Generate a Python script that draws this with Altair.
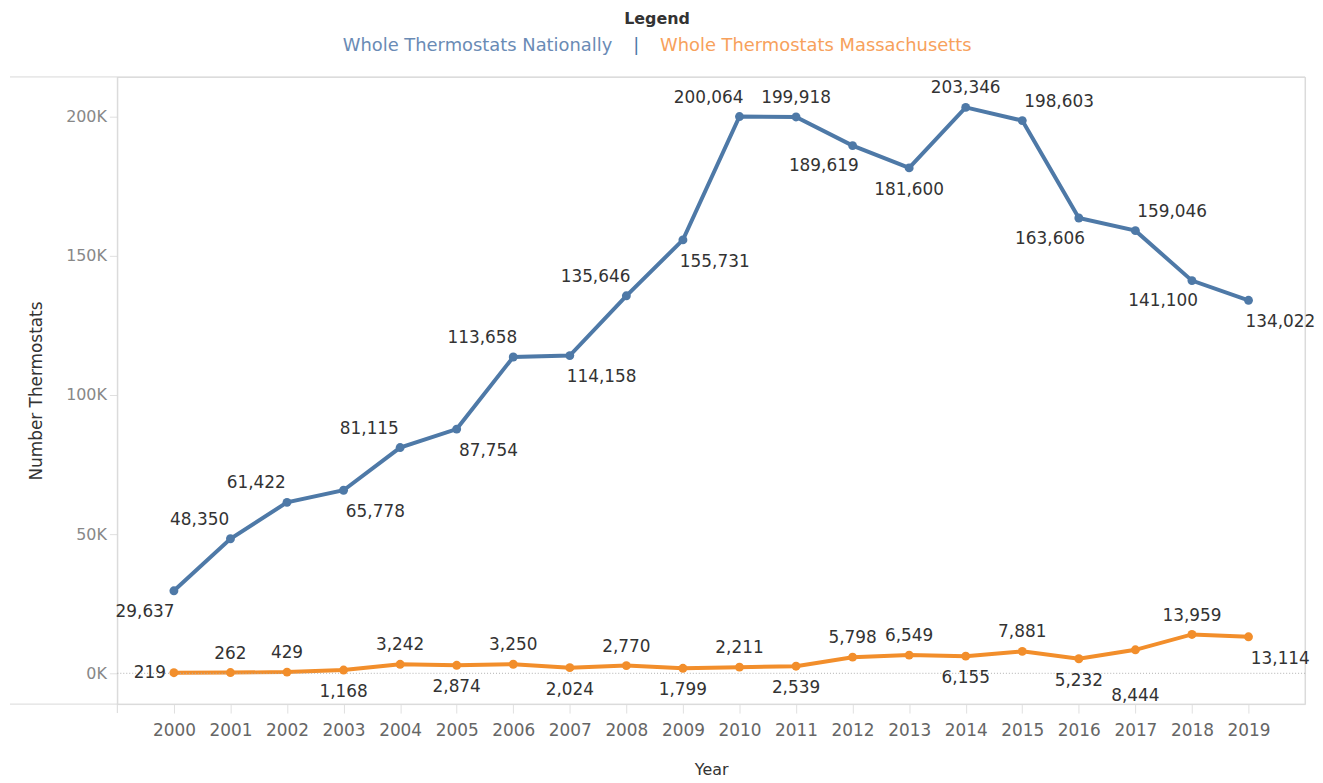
import altair as alt
import pandas as pd

years = [str(y) for y in range(2000, 2020)]
national = [29637, 48350, 61422, 65778, 81115, 87754, 113658, 114158, 135646, 155731,
            200064, 199918, 189619, 181600, 203346, 198603, 163606, 159046, 141100, 134022]
massachusetts = [219, 262, 429, 1168, 3242, 2874, 3250, 2024, 2770, 1799,
                 2211, 2539, 5798, 6549, 6155, 7881, 5232, 8444, 13959, 13114]
# label placement relative to each point (a=above, b=below, l/r = left/right)
national_pos = ["bl", "al", "al", "br", "al", "br", "al", "br", "al", "br",
                "al", "a", "bl", "b", "a", "ar", "bl", "ar", "bl", "br"]
ma_pos = ["l", "a", "a", "b", "a", "b", "a", "b", "a", "b",
          "a", "b", "a", "a", "b", "a", "b", "bb", "a", "br"]

series_names = ["Whole Thermostats Nationally", "Whole Thermostats Massachusetts"]
line_colors = ["#4e79a7", "#f28e2b"]
legend_colors = ["#6a8bb5", "#f7a15c"]

rows = []
for name, vals, poss in [(series_names[0], national, national_pos),
                         (series_names[1], massachusetts, ma_pos)]:
    for yr, v, p in zip(years, vals, poss):
        rows.append({"Year": yr, "Series": name, "Value": v, "Pos": p})
df = pd.DataFrame(rows)

W, H = 1195, 631
FONT = "DejaVu Sans"
GRID = "#d9d9d9"

x_enc = alt.X("Year:O", scale=alt.Scale(type="point", padding=1),
              axis=alt.Axis(labelAngle=0, domain=False, ticks=True, tickSize=9,
                            tickColor="#e0e0e0", labelColor="#666666", labelFontSize=17,
                            labelFont=FONT, labelPadding=10, titleFont=FONT,
                            titleFontSize=16, titleFontWeight="normal", titleColor="#333333",
                            titlePadding=23),
              title="Year")
y_enc = alt.Y("Value:Q", scale=alt.Scale(domain=[-11071, 214286], nice=False, zero=False),
              axis=alt.Axis(values=[0, 50000, 100000, 150000, 200000],
                            labelExpr="(datum.value/1000) + 'K'", grid=False, domain=False,
                            tickSize=8, tickColor="#e0e0e0", labelColor="#888888",
                            labelFontSize=16, labelFont=FONT, labelPadding=3,
                            titleFont=FONT, titleFontSize=17, titleFontWeight="normal",
                            titleColor="#333333", titlePadding=20),
              title="Number Thermostats")
color_enc = alt.Color("Series:N", scale=alt.Scale(domain=series_names, range=line_colors),
                      legend=None)

base = alt.Chart(df).encode(x=x_enc, y=y_enc, color=color_enc)

zero_line = alt.Chart(pd.DataFrame({"z": [0]})).mark_rule(
    color="#b0b0b0", strokeDash=[1, 2], strokeWidth=1).encode(y=alt.datum(0))

line = base.mark_line(strokeWidth=4)
pts = base.mark_circle(size=80, opacity=1)

offsets = {
    "a": (0, -19, "center"),
    "b": (0, 22, "center"),
    "al": (-31, -19, "center"),
    "ar": (37, -19, "center"),
    "bl": (-29, 21, "center"),
    "br": (32, 22, "center"),
    "l": (-8, 0, "right"),
    "bb": (0, 47, "center"),
}
labels = []
for code, (dx, dy, al) in offsets.items():
    labels.append(
        alt.Chart(df).transform_filter(alt.datum.Pos == code).mark_text(
            dx=dx, dy=dy, align=al, baseline="middle", fontSize=17, font=FONT,
            color="#333333").encode(
            x=alt.X("Year:O"), y=alt.Y("Value:Q"),
            text=alt.Text("Value:Q", format=","))
    )

one = pd.DataFrame({"k": [0]})
frame = [
    alt.Chart(one).mark_rule(color=GRID, strokeWidth=1).encode(
        x=alt.value(-108), x2=alt.value(W), y=alt.value(0)),
    alt.Chart(one).mark_rule(color=GRID, strokeWidth=1).encode(
        x=alt.value(-108), x2=alt.value(W), y=alt.value(H)),
    alt.Chart(one).mark_rule(color=GRID, strokeWidth=1).encode(
        x=alt.value(0), y=alt.value(0), y2=alt.value(H + 9)),
    alt.Chart(one).mark_rule(color=GRID, strokeWidth=1).encode(
        x=alt.value(W), y=alt.value(0), y2=alt.value(H)),
]

legend_title = alt.Chart(pd.DataFrame({"t": ["Legend"]})).mark_text(
    fontSize=16, font=FONT, fontWeight="bold", color="#333333", align="center",
    baseline="middle").encode(text="t:N", x=alt.value(543), y=alt.value(-58))
legend_nat = alt.Chart(pd.DataFrame({"t": [series_names[0]]})).mark_text(
    fontSize=18, font=FONT, color=legend_colors[0], align="right",
    baseline="middle").encode(text="t:N", x=alt.value(498), y=alt.value(-31))
legend_sep = alt.Chart(pd.DataFrame({"t": ["|"]})).mark_text(
    fontSize=18, font=FONT, color="#4e79a7", align="center",
    baseline="middle").encode(text="t:N", x=alt.value(522), y=alt.value(-31))
legend_ma = alt.Chart(pd.DataFrame({"t": [series_names[1]]})).mark_text(
    fontSize=18, font=FONT, color=legend_colors[1], align="left",
    baseline="middle").encode(text="t:N", x=alt.value(546), y=alt.value(-31))

chart = alt.layer(
    line, *frame, zero_line, pts, *labels, legend_title, legend_nat, legend_sep, legend_ma
).properties(
    width=W, height=H,
    autosize=alt.AutoSizeParams(type="none"),
    padding={"left": 110, "top": 67, "right": 10, "bottom": 76},
).configure_view(stroke=None).configure(background="white")

chart.save("out.html", embed_options={"renderer": "svg", "actions": False})
